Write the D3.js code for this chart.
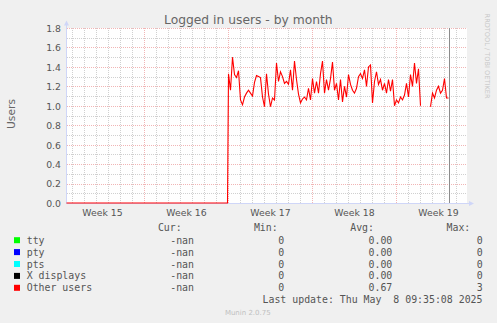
<!DOCTYPE html>
<html><head><meta charset="utf-8">
<script src="https://cdn.jsdelivr.net/npm/d3@7"></script>
<style>html,body{margin:0;padding:0;background:#f0f0f0;} svg{display:block} text{white-space:pre}</style>
</head><body><svg id="c" width="497" height="323"></svg>
<script>
// ---------- data ----------
const chartTitle = "Logged in users - by month";
const yLabel = "Users";
const yTicks = [0.0, 0.2, 0.4, 0.6, 0.8, 1.0, 1.2, 1.4, 1.6, 1.8];
const yMinorStep = 0.1;
const weekLabels = ["Week 15", "Week 16", "Week 17", "Week 18", "Week 19"];
const weekStarts = ["2025-04-06T00:00:00Z", "2025-04-13T00:00:00Z", "2025-04-20T00:00:00Z", "2025-04-27T00:00:00Z", "2025-05-04T00:00:00Z"];
const viewStart = "2025-04-06T12:00:00Z";
const viewEnd = "2025-05-09T20:00:00Z";
const lastUpdate = "2025-05-08T09:35:08Z";
const zeroPeriod = ["2025-04-06T12:00:00Z", "2025-04-19T22:00:00Z"];
const otherStart = "2025-04-20T00:00:00Z";
const otherStepHours = 4;
const otherUsers = [
 1.33,1.16,1.50,1.32,1.29,1.36,1.06,1.01,1.09,1.13,
 1.16,1.13,1.10,1.24,1.31,1.30,1.29,1.09,0.99,1.33,
 1.12,0.99,1.08,1.06,1.44,1.25,1.35,1.30,1.23,1.25,
 1.22,1.37,1.16,1.46,1.27,1.12,1.03,1.07,1.09,1.06,
 1.18,1.06,1.28,1.13,1.25,1.13,1.33,1.46,1.13,1.27,
 1.16,1.28,1.45,1.16,1.23,1.06,1.27,1.04,1.20,1.09,
 1.32,1.22,1.16,1.13,1.18,1.30,1.33,1.28,1.37,1.20,
 1.40,1.42,1.03,1.25,1.35,1.22,1.27,1.16,1.23,1.13,
 1.27,1.15,1.27,1.00,1.06,1.03,1.09,1.06,1.11,1.23,
 1.09,1.32,1.20,1.44,1.23,1.38,1.00,null,null,null,
 null,0.99,1.13,1.08,1.16,1.20,1.13,1.16,1.28,1.08,
 1.08
];
const legendNames = ["tty", "pty", "pts", "X displays", "Other users"];
const legendColors = ["#00ff00", "#0000ff", "#00ffff", "#000000", "#ff0000"];
const legendHeaders = ["Cur:", "Min:", "Avg:", "Max:"];
const legendCur = ["-nan", "-nan", "-nan", "-nan", "-nan"];
const legendMin = ["0", "0", "0", "0", "0"];
const legendAvg = ["0.00", "0.00", "0.00", "0.00", "0.67"];
const legendMax = ["0", "0", "0", "0", "3"];
const lastUpdateText = "Last update: Thu May  8 09:35:08 2025";
const watermark = "RRDTOOL / TOBI OETIKER";
const footer = "Munin 2.0.75";

// ---------- drawing ----------
const svg = d3.select("#c");
const L = 66.5, R = 466.5, T = 28.5, B = 203.5;
const x = d3.scaleUtc().domain([new Date(viewStart), new Date(viewEnd)]).range([L, R]);
const y = d3.scaleLinear().domain([0, 1.8]).range([B, T]);
const crisp = v => Math.round(v - 0.5) + 0.5;
const minorCol = "rgba(143,143,143,0.42)";
const majorCol = "rgba(222,79,79,0.42)";

svg.append("rect").attr("width", 497).attr("height", 323).attr("fill", "#f0f0f0");
svg.append("rect").attr("x", 67).attr("y", 28).attr("width", 400).attr("height", 175).attr("fill", "#ffffff");

const grid = svg.append("g").attr("shape-rendering", "crispEdges");
const minorY = d3.range(0, 1.8001, yMinorStep).filter(v => Math.abs(Math.round(v * 10) % 2) === 1);
grid.selectAll(".hmin").data(minorY).join("line")
  .attr("x1", 67).attr("x2", 467).attr("y1", d => crisp(y(d))).attr("y2", d => crisp(y(d)))
  .attr("stroke", minorCol).attr("stroke-dasharray", "1,1");
const days = d3.utcDay.range(new Date(viewStart), new Date(viewEnd)).filter(d => d.getUTCDay() !== 0);
grid.selectAll(".vmin").data(days).join("line")
  .attr("y1", 28).attr("y2", 203).attr("x1", d => crisp(x(d))).attr("x2", d => crisp(x(d)))
  .attr("stroke", minorCol).attr("stroke-dasharray", "1,1");
grid.selectAll(".hmaj").data(yTicks.filter(v => v > 0)).join("line")
  .attr("x1", 67).attr("x2", 467).attr("y1", d => crisp(y(d))).attr("y2", d => crisp(y(d)))
  .attr("stroke", majorCol).attr("stroke-dasharray", "1,1");
const weekDates = weekStarts.map(s => new Date(s)).filter(d => x(d) > L + 1);
grid.selectAll(".vmaj").data(weekDates).join("line")
  .attr("y1", 28).attr("y2", 203).attr("x1", d => crisp(x(d))).attr("x2", d => crisp(x(d)))
  .attr("stroke", majorCol).attr("stroke-dasharray", "1,1");

// axes
const axisCol = "#cfd6f8";
svg.append("line").attr("x1", 66.5).attr("x2", 66.5).attr("y1", 203.5).attr("y2", 24)
  .attr("stroke", axisCol).attr("shape-rendering", "crispEdges");
svg.append("line").attr("x1", 66).attr("x2", 470).attr("y1", 203.5).attr("y2", 203.5)
  .attr("stroke", axisCol).attr("shape-rendering", "crispEdges");
svg.append("path").attr("d", "M64,25.5L69,25.5L66.5,20.5Z").attr("fill", axisCol);
svg.append("path").attr("d", "M469,201L469,206L474,203.5Z").attr("fill", axisCol);

// series
const step = otherStepHours * 3600 * 1000;
const t0 = new Date(otherStart).getTime();
const series = [
  { t: new Date(zeroPeriod[0]), v: 0 },
  { t: new Date(zeroPeriod[1]), v: 0 },
  ...otherUsers.map((v, i) => ({ t: new Date(t0 + i * step), v }))
];
const line = d3.line().defined(d => d.v !== null).x(d => x(d.t)).y(d => y(d.v) - 0.5);
svg.append("path").datum(series).attr("d", line)
  .attr("fill", "none").attr("stroke", "#ff0000").attr("stroke-width", 1.1);

// last update vrule
const xv = crisp(x(new Date(lastUpdate)));
svg.append("line").attr("x1", xv).attr("x2", xv).attr("y1", 28).attr("y2", 203)
  .attr("stroke", "#8c8c8c").attr("stroke-width", 1).attr("shape-rendering", "crispEdges");

// y tick labels
const fontSans = "'DejaVu Sans', Verdana, sans-serif";
svg.selectAll(".yl").data(yTicks).join("text")
  .attr("x", 61).attr("y", d => y(d) + 3.4).attr("text-anchor", "end")
  .attr("font-family", fontSans).attr("font-size", 9.3).attr("fill", "#555")
  .text(d => d.toFixed(1));

// x labels
svg.selectAll(".xl").data(weekLabels).join("text")
  .attr("x", (d, i) => x(new Date(new Date(weekStarts[i]).getTime() + 3.5 * 86400000)))
  .attr("y", 216).attr("text-anchor", "middle")
  .attr("font-family", fontSans).attr("font-size", 9.3).attr("fill", "#555")
  .text(d => d);

// title
svg.append("text").attr("x", 248.3).attr("y", 24).attr("text-anchor", "middle")
  .attr("font-family", fontSans).attr("font-size", 12.3).attr("fill", "#666").text(chartTitle);

// y label
svg.append("text").attr("transform", "translate(14.5,114) rotate(-90)").attr("text-anchor", "middle")
  .attr("font-family", fontSans).attr("font-size", 10.7).attr("fill", "#666").text(yLabel);

// watermark
svg.append("text").attr("transform", "translate(485,56) rotate(90)").attr("text-anchor", "middle")
  .attr("font-family", fontSans).attr("font-size", 6.6).attr("fill", "#c8c8c8").text(watermark);

// legend
const mono = "'DejaVu Sans Mono', monospace";
const lg = svg.append("g").attr("font-family", mono).attr("font-size", 9.9).attr("fill", "#555");
const headerEnds = [181.7, 277.7, 374, 470.3];
lg.selectAll(".hd").data(legendHeaders).join("text")
  .attr("x", (d, i) => headerEnds[i]).attr("y", 231).attr("text-anchor", "end").text(d => d);
const rowY = i => 243.7 + i * 11.9;
lg.selectAll(".sw").data(legendColors).join("rect")
  .attr("x", 14).attr("y", (d, i) => rowY(i) - 6.5).attr("width", 6).attr("height", 6)
  .attr("fill", d => d);
lg.selectAll(".nm").data(legendNames).join("text")
  .attr("x", 26.7).attr("y", (d, i) => rowY(i)).text(d => d);
const colEnds = [194, 284.3, 392.3, 482.7];
[legendCur, legendMin, legendAvg, legendMax].forEach((col, c) => {
  lg.selectAll(".c" + c).data(col).join("text")
    .attr("x", colEnds[c]).attr("y", (d, i) => rowY(i)).attr("text-anchor", "end").text(d => d);
});
lg.append("text").attr("x", 482.5).attr("y", 303.3).attr("text-anchor", "end")
  .attr("xml:space", "preserve").style("white-space", "pre")
  .text(lastUpdateText.replace(/ /g, "\u00a0"));

svg.append("text").attr("x", 247.8).attr("y", 314.5).attr("text-anchor", "middle")
  .attr("font-family", fontSans).attr("font-size", 7).attr("fill", "#c0c0c0").text(footer);
</script>
</body></html>
